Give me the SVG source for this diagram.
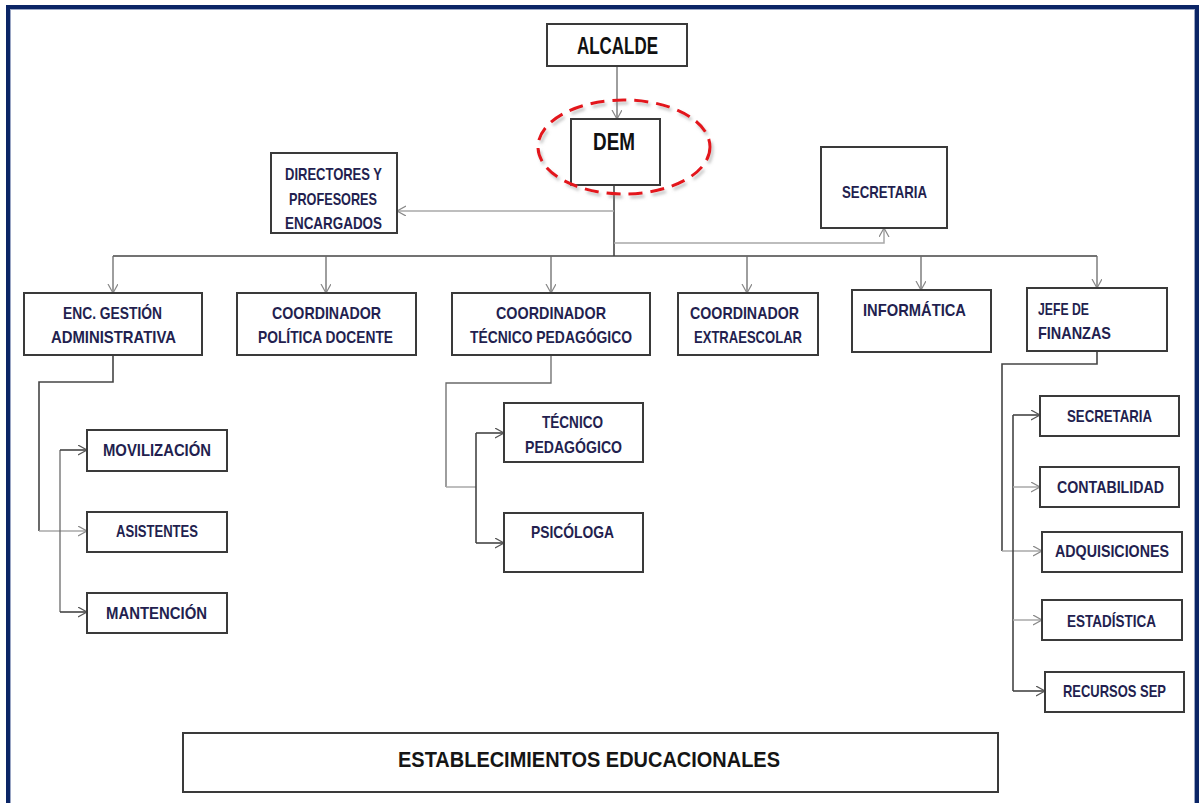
<svg xmlns="http://www.w3.org/2000/svg" width="1199" height="803" viewBox="0 0 1199 803">
<style>
.box{fill:#fff;stroke:#3a3a3a;stroke-width:2}
.lbl{font-family:"Liberation Sans",Arial,sans-serif;font-weight:bold;font-size:17px;fill:#231f4f;text-anchor:middle}
.lft{text-anchor:start}
.big{font-size:23px;fill:#111}
.est{font-size:22px;fill:#151515}
.dark{fill:none;stroke:#454545;stroke-width:1.6}
.mid{fill:none;stroke:#6a6a6a;stroke-width:1.3}
.light{fill:none;stroke:#a8a8a8;stroke-width:1.5}
</style>
<defs>
<marker id="arD" markerUnits="userSpaceOnUse" markerWidth="12" markerHeight="12" refX="9" refY="5" orient="auto">
<path d="M0,0 L9,5 L0,10" fill="none" stroke="#555" stroke-width="1.2"/>
</marker>
<marker id="arL" markerUnits="userSpaceOnUse" markerWidth="12" markerHeight="12" refX="9" refY="5" orient="auto">
<path d="M0,0 L9,5 L0,10" fill="none" stroke="#888" stroke-width="1.2"/>
</marker>
<filter id="sh" x="-10%" y="-10%" width="130%" height="130%">
<feDropShadow dx="2" dy="3" stdDeviation="1.5" flood-color="#888" flood-opacity="0.5"/>
</filter>
</defs>
<rect x="0" y="0" width="1199" height="803" fill="#fff"/>
<rect x="8" y="7" width="1189" height="830" fill="none" stroke="#0b2566" stroke-width="4"/>
<rect x="10.5" y="9.5" width="1184" height="830" fill="none" stroke="#9aa6c4" stroke-width="1"/>

<g id="connectors">
<line class="mid" x1="617" y1="66" x2="617" y2="119" marker-end="url(#arL)"/>
<line class="dark" x1="614" y1="185" x2="614" y2="256"/>
<line class="light" x1="614" y1="211" x2="397" y2="211" marker-end="url(#arL)"/>
<path class="light" d="M614,243 H884 V228" marker-end="url(#arL)"/>
<line class="dark" x1="113" y1="256" x2="1097" y2="256"/>
<line class="mid" x1="113" y1="256" x2="113" y2="293" marker-end="url(#arL)"/>
<line class="mid" x1="326" y1="256" x2="326" y2="293" marker-end="url(#arL)"/>
<line class="mid" x1="551" y1="256" x2="551" y2="293" marker-end="url(#arL)"/>
<line class="mid" x1="747" y1="256" x2="747" y2="293" marker-end="url(#arL)"/>
<line class="mid" x1="921" y1="256" x2="921" y2="290" marker-end="url(#arL)"/>
<line class="mid" x1="1097" y1="256" x2="1097" y2="288" marker-end="url(#arL)"/>
<path class="dark" d="M113,355 V382 H39 V531"/>
<path class="light" d="M39,531 H87" marker-end="url(#arL)"/>
<line class="mid" x1="60" y1="450" x2="60" y2="612"/>
<path class="dark" d="M60,450 H87" marker-end="url(#arD)"/>
<path class="dark" d="M60,612 H87" marker-end="url(#arD)"/>
<path class="mid" d="M551,355 V383 H446 V487"/>
<path class="light" d="M446,487 H476"/>
<line class="dark" x1="476" y1="433" x2="476" y2="543"/>
<path class="dark" d="M476,433 H504" marker-end="url(#arD)"/>
<path class="dark" d="M476,543 H504" marker-end="url(#arD)"/>
<path class="dark" d="M1097,351 V364 H1002 V551"/>
<path class="light" d="M1002,551 H1042" marker-end="url(#arL)"/>
<line class="dark" x1="1013" y1="415" x2="1013" y2="691"/>
<path class="dark" d="M1013,415 H1040" marker-end="url(#arD)"/>
<path class="light" d="M1013,487 H1040" marker-end="url(#arL)"/>
<path class="light" d="M1013,620 H1042" marker-end="url(#arL)"/>
<path class="dark" d="M1013,691 H1045" marker-end="url(#arD)"/>
</g>

<g id="alcalde"><rect class="box" x="547" y="24" width="140" height="42"/><text class="lbl big" x="617.5" y="54" textLength="81" lengthAdjust="spacingAndGlyphs">ALCALDE</text></g>
<g id="dem"><rect class="box" x="571" y="119" width="89" height="66"/><text class="lbl big" x="614" y="150" textLength="42" lengthAdjust="spacingAndGlyphs">DEM</text>
<ellipse cx="624" cy="147" rx="86" ry="47" fill="none" stroke="#e3161d" stroke-width="3" stroke-dasharray="14 8" filter="url(#sh)"/></g>
<g id="directores"><rect class="box" x="271" y="153" width="126" height="80"/>
<text class="lbl" x="333.5" y="180" textLength="97" lengthAdjust="spacingAndGlyphs">DIRECTORES Y</text>
<text class="lbl" x="333" y="205" textLength="88" lengthAdjust="spacingAndGlyphs">PROFESORES</text>
<text class="lbl" x="333.5" y="229" textLength="97" lengthAdjust="spacingAndGlyphs">ENCARGADOS</text></g>
<g id="secretaria-dem"><rect class="box" x="821" y="147" width="126" height="81"/><text class="lbl" x="884.5" y="198" textLength="85" lengthAdjust="spacingAndGlyphs">SECRETARIA</text></g>
<g id="enc-gestion"><rect class="box" x="24" y="293" width="178" height="62"/>
<text class="lbl" x="112.5" y="319" textLength="99" lengthAdjust="spacingAndGlyphs">ENC. GESTIÓN</text>
<text class="lbl" x="113.5" y="343" textLength="125" lengthAdjust="spacingAndGlyphs">ADMINISTRATIVA</text></g>
<g id="coord-politica"><rect class="box" x="237" y="293" width="179" height="62"/>
<text class="lbl" x="326.5" y="319" textLength="109" lengthAdjust="spacingAndGlyphs">COORDINADOR</text>
<text class="lbl" x="325.5" y="343" textLength="135" lengthAdjust="spacingAndGlyphs">POLÍTICA DOCENTE</text></g>
<g id="coord-tecnico"><rect class="box" x="452" y="293" width="198" height="62"/>
<text class="lbl" x="551" y="319" textLength="110" lengthAdjust="spacingAndGlyphs">COORDINADOR</text>
<text class="lbl" x="551" y="343" textLength="162" lengthAdjust="spacingAndGlyphs">TÉCNICO PEDAGÓGICO</text></g>
<g id="coord-extra"><rect class="box" x="678" y="293" width="140" height="62"/>
<text class="lbl" x="744.5" y="319" textLength="109" lengthAdjust="spacingAndGlyphs">COORDINADOR</text>
<text class="lbl" x="748" y="343" textLength="108" lengthAdjust="spacingAndGlyphs">EXTRAESCOLAR</text></g>
<g id="informatica"><rect class="box" x="852" y="290" width="139" height="62"/>
<text class="lbl" x="914.5" y="316" textLength="103" lengthAdjust="spacingAndGlyphs">INFORMÁTICA</text></g>
<g id="jefe-finanzas"><rect class="box" x="1027" y="288" width="140" height="63"/>
<text class="lbl lft" x="1038" y="315" textLength="51" lengthAdjust="spacingAndGlyphs">JEFE DE</text>
<text class="lbl lft" x="1038" y="339" textLength="73" lengthAdjust="spacingAndGlyphs">FINANZAS</text></g>
<g id="movilizacion"><rect class="box" x="87" y="430" width="140" height="41"/><text class="lbl" x="157" y="456" textLength="108" lengthAdjust="spacingAndGlyphs">MOVILIZACIÓN</text></g>
<g id="asistentes"><rect class="box" x="87" y="512" width="140" height="40"/><text class="lbl" x="157" y="537" textLength="82" lengthAdjust="spacingAndGlyphs">ASISTENTES</text></g>
<g id="mantencion"><rect class="box" x="87" y="593" width="140" height="40"/><text class="lbl" x="156.5" y="619" textLength="101" lengthAdjust="spacingAndGlyphs">MANTENCIÓN</text></g>
<g id="tecnico-pedagogico"><rect class="box" x="504" y="403" width="139" height="59"/>
<text class="lbl" x="572.5" y="428" textLength="61" lengthAdjust="spacingAndGlyphs">TÉCNICO</text>
<text class="lbl" x="573.5" y="453" textLength="97" lengthAdjust="spacingAndGlyphs">PEDAGÓGICO</text></g>
<g id="psicologa"><rect class="box" x="504" y="513" width="139" height="59"/><text class="lbl" x="572.5" y="538" textLength="83" lengthAdjust="spacingAndGlyphs">PSICÓLOGA</text></g>
<g id="secretaria-fin"><rect class="box" x="1040" y="396" width="139" height="40"/><text class="lbl" x="1109.5" y="421.5" textLength="85" lengthAdjust="spacingAndGlyphs">SECRETARIA</text></g>
<g id="contabilidad"><rect class="box" x="1040" y="467" width="139" height="40"/><text class="lbl" x="1110.5" y="493" textLength="107" lengthAdjust="spacingAndGlyphs">CONTABILIDAD</text></g>
<g id="adquisiciones"><rect class="box" x="1042" y="532" width="140" height="40"/><text class="lbl" x="1112" y="557" textLength="114" lengthAdjust="spacingAndGlyphs">ADQUISICIONES</text></g>
<g id="estadistica"><rect class="box" x="1042" y="600" width="140" height="40"/><text class="lbl" x="1111.5" y="626.5" textLength="89" lengthAdjust="spacingAndGlyphs">ESTADÍSTICA</text></g>
<g id="recursos-sep"><rect class="box" x="1045" y="672" width="139" height="40"/><text class="lbl" x="1114.5" y="697" textLength="103" lengthAdjust="spacingAndGlyphs">RECURSOS SEP</text></g>
<g id="establecimientos"><rect class="box" x="183" y="733" width="815" height="59"/><text class="lbl est" x="589" y="767" textLength="382" lengthAdjust="spacingAndGlyphs">ESTABLECIMIENTOS EDUCACIONALES</text></g>
</svg>
